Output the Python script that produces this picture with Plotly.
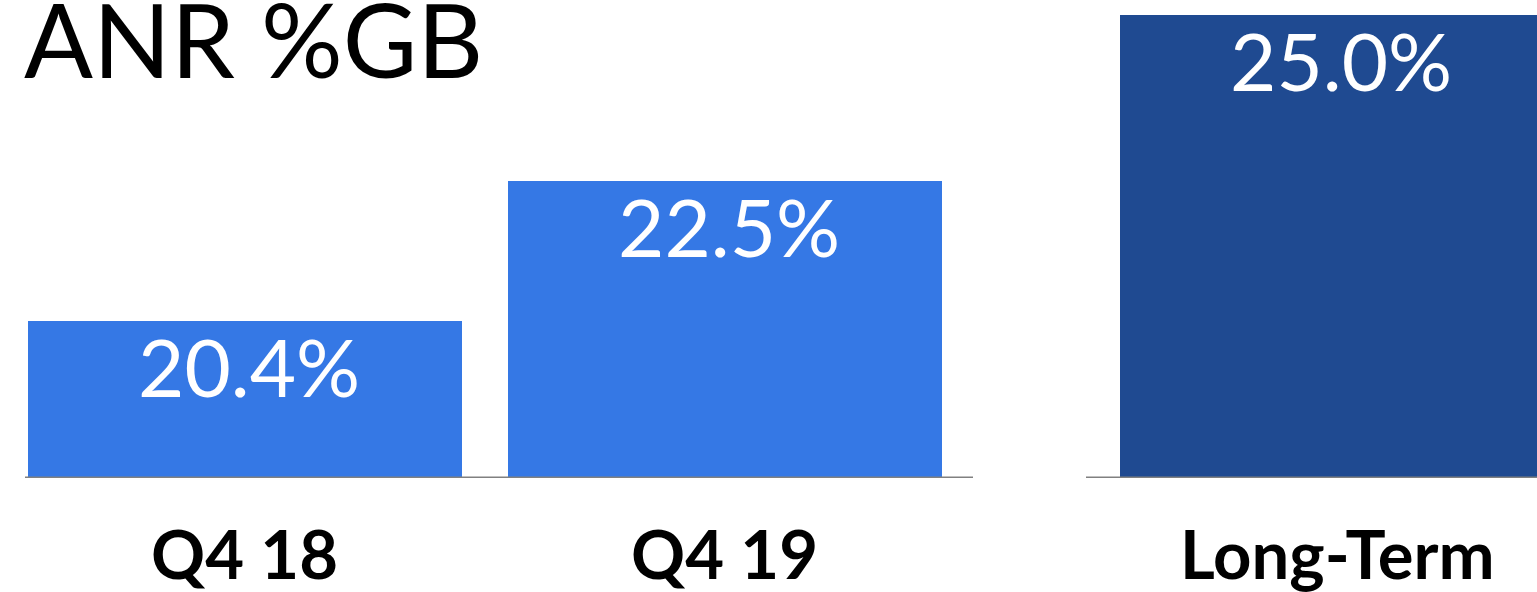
import plotly.graph_objects as go

# Data
categories = ["Q4 18", "Q4 19", "Long-Term"]
values = [20.4, 22.5, 25.0]
value_labels = ["20.4%", "22.5%", "25.0%"]
title_text = "ANR %GB"

# Layout constants (positions in x-axis units, matching pixel layout)
bar_positions = [244.5, 724.5, 1337]
bar_width = 434
bar_colors = ["#3578E5", "#3578E5", "#1F4A91"]
y_base = 18.03
px_per_unit = 66.4
plot_h = 478
FONT = "Lato"

fig = go.Figure()
fig.add_trace(go.Bar(
    x=bar_positions, y=[v - y_base for v in values], base=y_base,
    width=bar_width, marker=dict(color=bar_colors, line=dict(width=0)),
    hoverinfo="skip", showlegend=False,
))

# value labels inside bars
for xp, v, t in zip(bar_positions, values, value_labels):
    fig.add_annotation(x=xp + 4, y=v, text=t, showarrow=False, xref="x", yref="y",
                       yanchor="top", yshift=5,
                       font=dict(family=FONT, size=80, color="white"))

# category labels
for xp, c in zip(bar_positions, categories):
    fig.add_annotation(x=xp, y=0, text=c, showarrow=False, xref="x", yref="paper",
                       yanchor="top", yshift=-33,
                       font=dict(family=FONT, size=67, color="black", weight="bold"))

# title
fig.add_annotation(x=22, y=1, text=title_text, showarrow=False, xref="x", yref="paper",
                   xanchor="left", yanchor="top", yshift=25,
                   font=dict(family=FONT, size=102, color="black"))

# baseline segments
for x0, x1 in [(25, 973), (1086, 1537)]:
    fig.add_shape(type="line", x0=x0, x1=x1, y0=y_base, y1=y_base, xref="x", yref="y",
                  line=dict(color="#808080", width=3))

fig.update_layout(
    width=1537, height=592,
    margin=dict(l=0, r=0, t=0, b=592 - plot_h),
    paper_bgcolor="white", plot_bgcolor="white",
    xaxis=dict(range=[0, 1537], visible=False, fixedrange=True),
    yaxis=dict(range=[y_base, y_base + plot_h / px_per_unit], visible=False, fixedrange=True),
    bargap=0,
)

fig.write_html("out.html", config={"displayModeBar": False},
               post_script="document.body.style.margin='0';document.body.style.overflow='hidden';")
